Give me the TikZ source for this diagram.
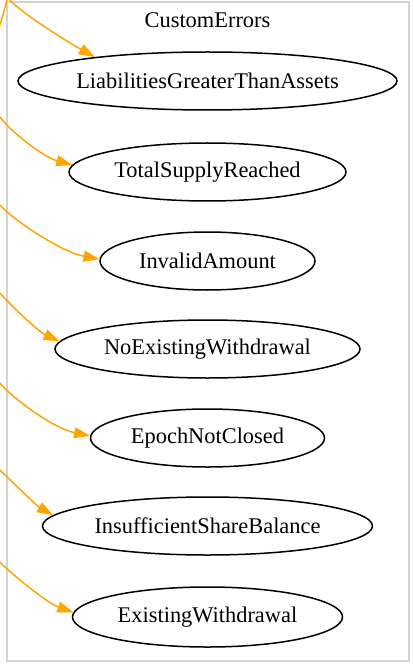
\documentclass[tikz,border=0pt]{standalone}
\usepackage{fontspec}
\setmainfont{Liberation Serif}
\usetikzlibrary{shapes.geometric,arrows.meta}
\definecolor{edgeorange}{HTML}{FFA500}
\definecolor{clustergray}{HTML}{D3D3D3}
\tikzset{
  errnode/.style={ellipse, draw=black, line width=1.5pt, inner sep=0pt,
    font=\fontsize{22.4}{27}\selectfont},
  depedge/.style={draw=edgeorange, line width=1.5pt,
    -{Triangle[length=16pt,width=11pt]}},
  stubedge/.style={draw=edgeorange, line width=1.5pt},
  cluster/.style={draw=clustergray, line width=1.3pt},
}
\begin{document}
\begin{tikzpicture}[x=1pt,y=-1pt]
\useasboundingbox (0,0) rectangle (413,668);
% cluster frame and its title
\draw[cluster] (7,2) rectangle (409,661);
\node[font=\fontsize{22.4}{27}\selectfont] (title) at (207.5,20) {CustomErrors};

% error nodes
\node[errnode, minimum width=379pt, minimum height=58pt] (e1) at (207.5,81) {LiabilitiesGreaterThanAssets};
\node[errnode, minimum width=277pt, minimum height=58pt] (e2) at (207.5,172) {TotalSupplyReached};
\node[errnode, minimum width=215pt, minimum height=58pt] (e3) at (207.5,261) {InvalidAmount};
\node[errnode, minimum width=305pt, minimum height=58pt] (e4) at (207.5,349) {NoExistingWithdrawal};
\node[errnode, minimum width=234pt, minimum height=58pt] (e5) at (207.5,438) {EpochNotClosed};
\node[errnode, minimum width=330pt, minimum height=58pt] (e6) at (207.5,526) {InsufficientShareBalance};
\node[errnode, minimum width=270pt, minimum height=60pt] (e7) at (207.5,617) {ExistingWithdrawal};

% loose ends of edges coming from outside the frame
\coordinate (s1) at (10,0);
\coordinate (s2) at (0,117);
\coordinate (s3) at (0,205);
\coordinate (s4) at (0,293);
\coordinate (s5) at (0,383);
\coordinate (s6) at (0,470);
\coordinate (s7) at (0,562);
\coordinate (f0) at (0,25);
\coordinate (f1) at (7,0);

% edges
\draw[stubedge] (f0) .. controls (3,15) .. (f1);
\draw[depedge] (s1) .. controls (20,12) and (66,41) .. (e1.168);
\draw[depedge] (s2) .. controls (10,131) and (43,157) .. (e2.177);
\draw[depedge] (s3) .. controls (12,219) and (61,252) .. (e3.179);
\draw[depedge] (s4) .. controls (8,303) and (39,332) .. (e4.177);
\draw[depedge] (s5) .. controls (10,396) and (52,428) .. (e5.179);
\draw[depedge] (s6) .. controls (8,478) and (37,506) .. (e6.176);
\draw[depedge] (s7) .. controls (9,572) and (47,603) .. (e7.178);
\end{tikzpicture}
\end{document}
